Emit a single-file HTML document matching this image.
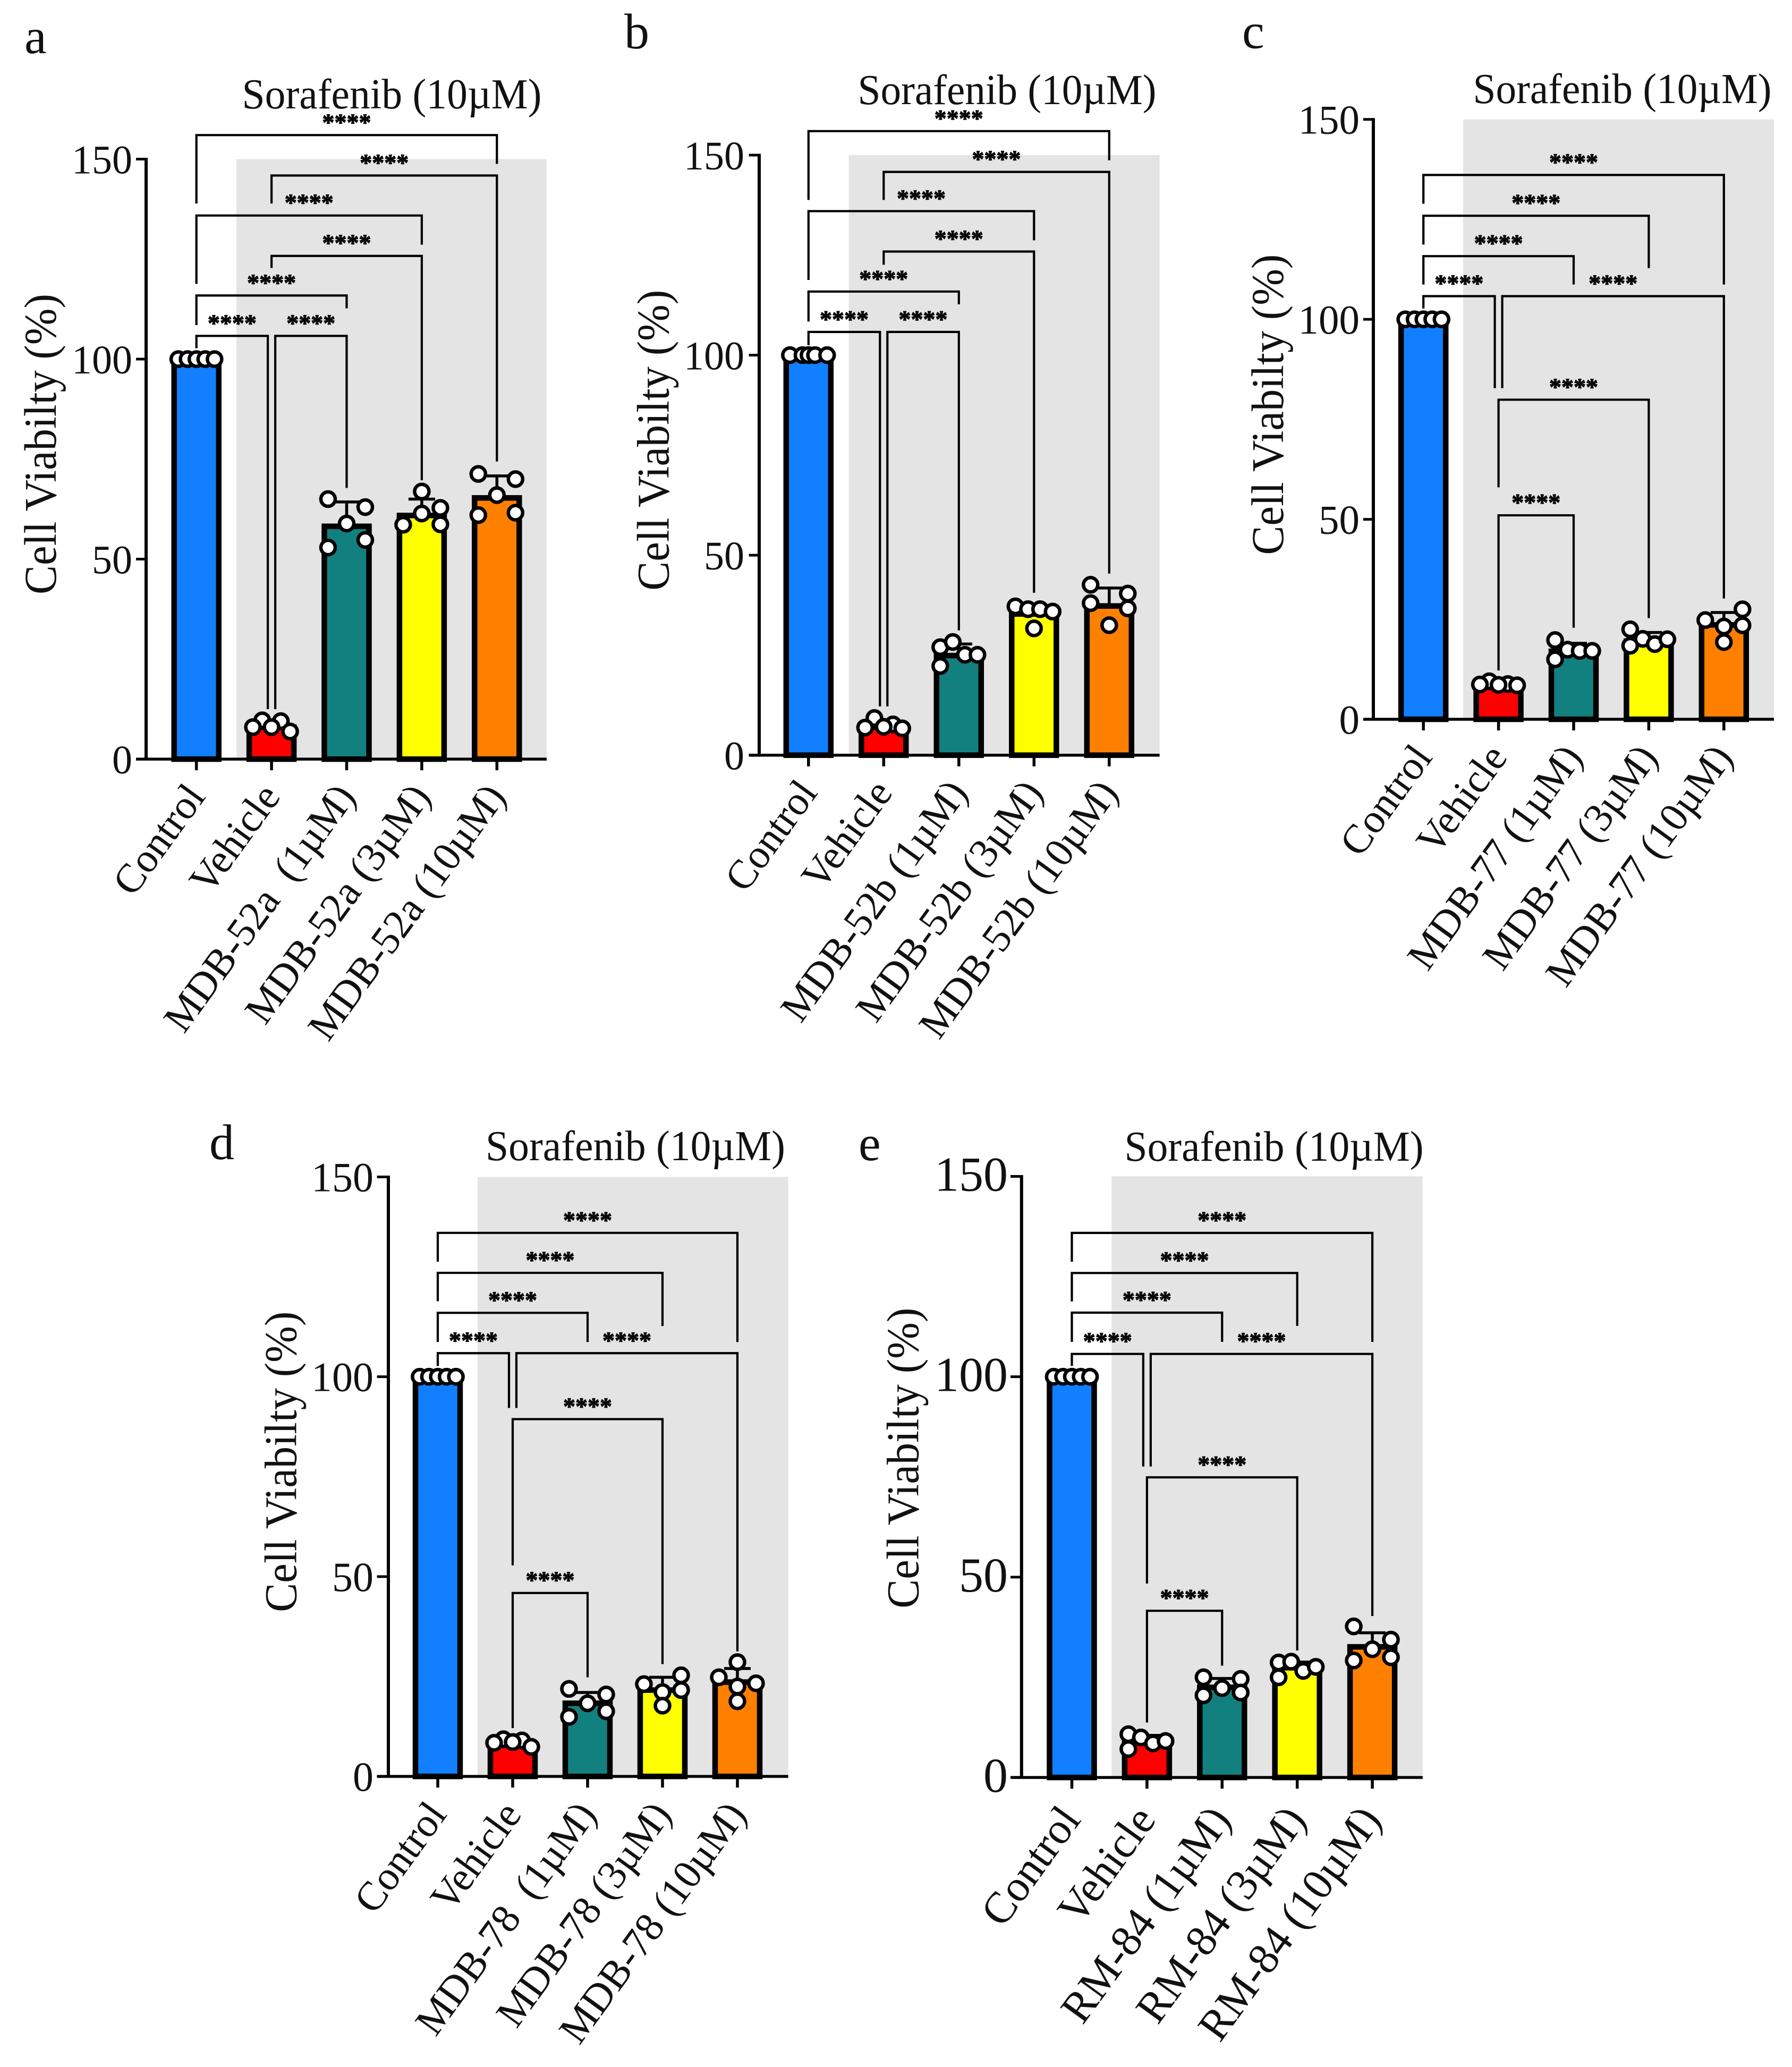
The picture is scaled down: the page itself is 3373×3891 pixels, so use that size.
<!DOCTYPE html>
<html>
<head>
<meta charset="utf-8">
<title>Cell viability bar charts</title>
<style>
html,body{margin:0;padding:0;background:#fff;}
svg{display:block;}
text{font-family:"Liberation Serif","Times New Roman",serif;fill:#111;}
.ptitle{font-size:80px;}
.ylab{font-size:86px;}
.letter{font-size:94px;}
</style>
</head>
<body>
<svg id="figure" xmlns="http://www.w3.org/2000/svg" width="3373" height="3891" viewBox="0 0 3373 3891">
  <rect x="0" y="0" width="3373" height="3891" fill="#fff"/>

  <g id="panel-a">
    <rect x="445" y="299.5" width="584" height="1129.5" fill="#e4e4e4"/>
    <text class="letter" x="46" y="100">a</text>
    <text class="ptitle" x="455.5" y="204" textLength="564" lengthAdjust="spacingAndGlyphs">Sorafenib (10µM)</text>
    <text class="ylab" text-anchor="middle" textLength="566" lengthAdjust="spacingAndGlyphs" transform="translate(105 836) rotate(-90)">Cell Viabilty (%)</text>
  </g>
  <g id="panel-b">
    <rect x="1597.6" y="292" width="585" height="1129.6" fill="#e4e4e4"/>
    <text class="letter" x="1175" y="91">b</text>
    <text class="ptitle" x="1614.5" y="196" textLength="562" lengthAdjust="spacingAndGlyphs">Sorafenib (10µM)</text>
    <text class="ylab" text-anchor="middle" textLength="566" lengthAdjust="spacingAndGlyphs" transform="translate(1258.7 828.7) rotate(-90)">Cell Viabilty (%)</text>
  </g>
  <g id="panel-c">
    <rect x="2754" y="224.7" width="585" height="1129.3" fill="#e4e4e4"/>
    <text class="letter" x="2338" y="90.6">c</text>
    <text class="ptitle" x="2772.5" y="194" textLength="562" lengthAdjust="spacingAndGlyphs">Sorafenib (10µM)</text>
    <text class="ylab" text-anchor="middle" textLength="566" lengthAdjust="spacingAndGlyphs" transform="translate(2415 761.6) rotate(-90)">Cell Viabilty (%)</text>
  </g>
  <g id="panel-d">
    <rect x="899" y="2215.5" width="584.6" height="1128.5" fill="#e4e4e4"/>
    <text class="letter" x="394" y="2182">d</text>
    <text class="ptitle" x="914" y="2184" textLength="564" lengthAdjust="spacingAndGlyphs">Sorafenib (10µM)</text>
    <text class="ylab" text-anchor="middle" textLength="566" lengthAdjust="spacingAndGlyphs" transform="translate(557.7 2751.7) rotate(-90)">Cell Viabilty (%)</text>
  </g>
  <g id="panel-e">
    <rect x="2092.3" y="2214.5" width="585.5" height="1131.5" fill="#e4e4e4"/>
    <text class="letter" x="1616" y="2184">e</text>
    <text class="ptitle" x="2116.5" y="2185" textLength="563" lengthAdjust="spacingAndGlyphs">Sorafenib (10µM)</text>
    <text class="ylab" text-anchor="middle" textLength="566" lengthAdjust="spacingAndGlyphs" transform="translate(1728.4 2744.7) rotate(-90)">Cell Viabilty (%)</text>
  </g>
</svg>

<script>
// Shared values
const tickValues = [0, 50, 100, 150];
const significance = "****";
const barColors = ["#117fff", "#ff0000", "#12807f", "#ffff00", "#ff8000"];

// Panel a
const aCategories = ["Control", "Vehicle", "MDB-52a \u00A0(1µM)", "MDB-52a (3µM)", "MDB-52a (10µM)"];
const aMeans = [100, 8, 58.2, 60.9, 65.3];
const aErrors = [0.3, 1.5, 6.1, 4.1, 5.5];
const aPoints = [[100,100,100,100,100],[9.7,9.5,8,8,6.9],[65,52.9,63,54.8,58.9],[58.6,66.9,61.4,62.8,58.7],[71.3,61,70,61.6,66]];
const aSlots = [[-1.95,-0.95,0,0.95,1.95],[-1,1,-2,0,2],[-2,-2,2,2,0],[-2,0,0,2,2],[-2,-2,2,2,0]];
// from-bar, to-bar, level, from-end, to-end, from-side, to-side
const aBrackets = [[0,4,156,138.9,148.8,0,0],[1,4,145.9,138.9,74.4,0,0],[0,3,135.9,118.8,128.6,0,0],[1,3,125.8,122.8,69.7,0,0],[0,2,115.9,108.5,112.7,0,0],[0,1,105.8,102.7,12.5,0,-1],[1,2,105.8,12.5,67.8,1,0]];

// Panel b
const bCategories = ["Control", "Vehicle", "MDB-52b (1µM)", "MDB-52b (3µM)", "MDB-52b (10µM)"];
const bMeans = [100, 7, 24.9, 35.3, 37.3];
const bErrors = [0.3, 1.2, 2.9, 2, 4.5];
const bPoints = [[100,100,100,100,100],[9.3,7.7,6.9,7.1,6.7],[27,22.3,28.3,25.1,25.1],[37.2,36.5,36.5,35.9,31.7],[42.6,38,40.4,36.7,32.5]];
const bSlots = [[-2,-0.65,0,0.7,2],[-1,1,-2,0,2],[-2,-2,-0.65,0.65,2],[-2,-0.65,0.65,2,0],[-2,-2,2,2,0]];
const bBrackets = [[0,4,156,138.8,148.7,0,0],[1,4,145.8,138.8,45.4,0,0],[0,3,136,118.8,128.7,0,0],[1,3,125.9,122.6,40.6,0,0],[0,2,115.9,108.4,112.7,0,0],[0,1,105.8,102.5,12.2,0,-1],[1,2,105.8,12.2,31.2,1,0]];

// Panel c
const cCategories = ["Control", "Vehicle", "MDB-77 (1µM)", "MDB-77 (3µM)", "MDB-77 (10µM)"];
const cMeans = [100, 8, 17, 19.5, 23.6];
const cErrors = [0.3, 0.5, 2, 2.2, 3.1];
const cPoints = [[100,100,100,100,100],[9.5,8.8,8.7,8.6,8.5],[19.8,15,17.4,17.1,17.1],[22.5,18.4,20.1,18.8,20],[24.8,23.2,19.3,27.5,23.5]];
const cSlots = [[-1.95,-0.95,0,0.95,1.95],[-1,1,-2,0,2],[-2,-2,-0.65,0.65,2],[-2,-2,-0.65,0.65,2],[-2,0,0,2,2]];
const cBrackets = [[0,4,136.1,128.9,108.7,0,0],[0,3,125.9,118.7,112.8,0,0],[0,2,115.8,108.7,108.7,0,0],[0,1,105.8,102.7,82.8,0,-1],[1,4,105.8,82.8,30.2,1,0],[1,3,79.9,58,25.3,0,0],[1,2,51,12.2,22.9,0,0]];

// Panel d
const dCategories = ["Control", "Vehicle", "MDB-78 \u00A0(1µM)", "MDB-78 (3µM)", "MDB-78 (10µM)"];
const dMeans = [100, 8.2, 18.3, 21.6, 23.6];
const dErrors = [0.3, 0.9, 2.7, 3.2, 3.4];
const dPoints = [[100,100,100,100,100],[9.3,9,8.4,8.6,7.4],[21.9,14.9,18.3,20.5,16.3],[23.1,21.1,17.7,25.3,21.6],[24.8,28.6,22.5,18.8,23.3]];
const dSlots = [[-1.95,-0.95,0,0.95,1.95],[-1,1,-2,0,2],[-2,-2,0,2,2],[-2,0,0,2,2],[-2,0,0,0,2]];
const dBrackets = [[0,4,136,128.8,108.7,0,0],[0,3,126,118.9,112.7,0,0],[0,2,116,108.7,108.7,0,0],[0,1,105.9,102.7,92.2,0,-1],[1,4,105.9,92.2,31.3,1,0],[1,3,89.4,52.8,28.1,0,0],[1,2,45.9,12.1,24.8,0,0]];

// Panel e
const eCategories = ["Control", "Vehicle", "RM-84 (1µM)", "RM-84 (3µM)", "RM-84 (10µM)"];
const eMeans = [100, 9, 22.5, 27.4, 32.6];
const eErrors = [0.3, 1.5, 2.2, 1.4, 3.5];
const ePoints = [[100,100,100,100,100],[10.8,7.1,10,8.5,9.1],[25,20.5,22.3,24.6,21.2],[28.7,25,28.9,26.6,27.6],[37.7,29.2,32,34.4,30]];
const eSlots = [[-1.95,-0.95,0,0.95,1.95],[-2,-2,-0.65,0.65,2],[-2,-2,0,2,2],[-2,-2,-0.65,0.65,2],[-2,-2,0,2,2]];
const eBrackets = [[0,4,135.9,128.7,108.7,0,0],[0,3,125.9,118.8,112.7,0,0],[0,2,116,108.7,108.7,0,0],[0,1,105.7,102.7,77.6,0,-1],[1,4,105.7,77.6,40.3,1,0],[1,3,74.9,48.4,31.7,0,0],[1,2,41.6,13.7,27.9,0,0]];

const NS = "http://www.w3.org/2000/svg";
function mk(tag, attrs, parent) {
  const el = document.createElementNS(NS, tag);
  for (const k in attrs) el.setAttribute(k, attrs[k]);
  parent.appendChild(el);
  return el;
}

function drawPanel(id, cfg, categories, means, errors, points, slots, brackets) {
  const g = document.getElementById(id);
  const xScale = i => cfg.x0 + i * cfg.step;
  const yScale = v => cfg.zero - (cfg.zero - cfg.top) * v / 150;
  const slotUnit = 17.5, sideGap = 7, barW = 84;

  means.forEach((m, i) => {
    const bar = mk("rect", {x: xScale(i) - barW / 2, y: yScale(m), width: barW, height: cfg.zero - yScale(m), fill: barColors[i], stroke: "#000", "stroke-width": 10.5}, g);
    
    
  });

  means.forEach((m, i) => {
    const stem = mk("line", {x1: xScale(i), x2: xScale(i), y1: yScale(m), y2: yScale(m + errors[i]), stroke: "#000", "stroke-width": 5.5}, g);
    
    
    const cap = mk("line", {x1: xScale(i) - 25, x2: xScale(i) + 25, y1: yScale(m + errors[i]), y2: yScale(m + errors[i]), stroke: "#000", "stroke-width": 5.5}, g);
    
    
  });

  points.forEach((series, i) => {
    series.forEach((v, j) => {
      const pt = mk("circle", {cx: xScale(i) + slots[i][j] * slotUnit, cy: yScale(v), r: 13.5, fill: "#fff", stroke: "#000", "stroke-width": 6.5}, g);
      
      
    });
  });

  const yAxis = mk("line", {x1: cfg.axis, x2: cfg.axis, y1: cfg.top - 2.5, y2: cfg.zero + 2.5, stroke: "#000", "stroke-width": 6}, g);
  
  
  const xAxis = mk("line", {x1: cfg.tickLeft, x2: cfg.right, y1: cfg.zero, y2: cfg.zero, stroke: "#000", "stroke-width": 5.5}, g);
  
  

  tickValues.forEach(v => {
    const t = mk("line", {x1: cfg.tickLeft, x2: cfg.axis, y1: yScale(v), y2: yScale(v), stroke: "#000", "stroke-width": 5}, g);
    
    
    const lab = mk("text", {x: cfg.labelRight, y: yScale(v) + 27, "text-anchor": "end", "font-size": cfg.tickFont}, g);
    
    
    lab.textContent = String(v);
  });

  categories.forEach((c, i) => {
    const t = mk("line", {x1: xScale(i), x2: xScale(i), y1: cfg.zero, y2: cfg.zero + 21, stroke: "#000", "stroke-width": 5.5}, g);
    
    
    const lab = mk("text", {"text-anchor": "end", "font-size": cfg.xFont, transform: "translate(" + (xScale(i) + 19) + " " + (cfg.zero + cfg.xDrop) + ") rotate(-54)"}, g);
    
    
    lab.textContent = c;
  });

  brackets.forEach(b => {
    const xa = xScale(b[0]) + b[5] * sideGap, xb = xScale(b[1]) + b[6] * sideGap;
    const line = mk("path", {d: "M" + xa + " " + yScale(b[3]) + "V" + yScale(b[2]) + "H" + xb + "V" + yScale(b[4]), fill: "none", stroke: "#000", "stroke-width": 4.2}, g);
    
    
    const star = mk("text", {x: (xa + xb) / 2, y: yScale(b[2]) - 9, "text-anchor": "middle", "font-size": 46, "font-weight": "bold", stroke: "#000", "stroke-width": 1.2}, g);
    
    
    star.textContent = significance;
  });
}

drawPanel("panel-a", {x0: 369.7, step: 141.4, zero: 1429, top: 299.5, axis: 275, tickLeft: 256, right: 1029, labelRight: 249, tickFont: 76, xFont: 77, xDrop: 71}, aCategories, aMeans, aErrors, aPoints, aSlots, aBrackets);
drawPanel("panel-b", {x0: 1521.8, step: 141.5, zero: 1421.6, top: 292, axis: 1429, tickLeft: 1409.6, right: 2182.6, labelRight: 1401, tickFont: 76, xFont: 77, xDrop: 71}, bCategories, bMeans, bErrors, bPoints, bSlots, bBrackets);
drawPanel("panel-c", {x0: 2679.2, step: 141.4, zero: 1354, top: 224.7, axis: 2585, tickLeft: 2566, right: 3339, labelRight: 2559, tickFont: 77, xFont: 77, xDrop: 72}, cCategories, cMeans, cErrors, cPoints, cSlots, cBrackets);
drawPanel("panel-d", {x0: 824, step: 141, zero: 3344, top: 2215.5, axis: 731, tickLeft: 709.6, right: 1483.6, labelRight: 703, tickFont: 78, xFont: 77, xDrop: 72}, dCategories, dMeans, dErrors, dPoints, dSlots, dBrackets);
drawPanel("panel-e", {x0: 2017.5, step: 141.4, zero: 3346, top: 2214.5, axis: 1922.8, tickLeft: 1902, right: 2677.8, labelRight: 1897, tickFont: 92, xFont: 83, xDrop: 80}, eCategories, eMeans, eErrors, ePoints, eSlots, eBrackets);
</script>
</body>
</html>
